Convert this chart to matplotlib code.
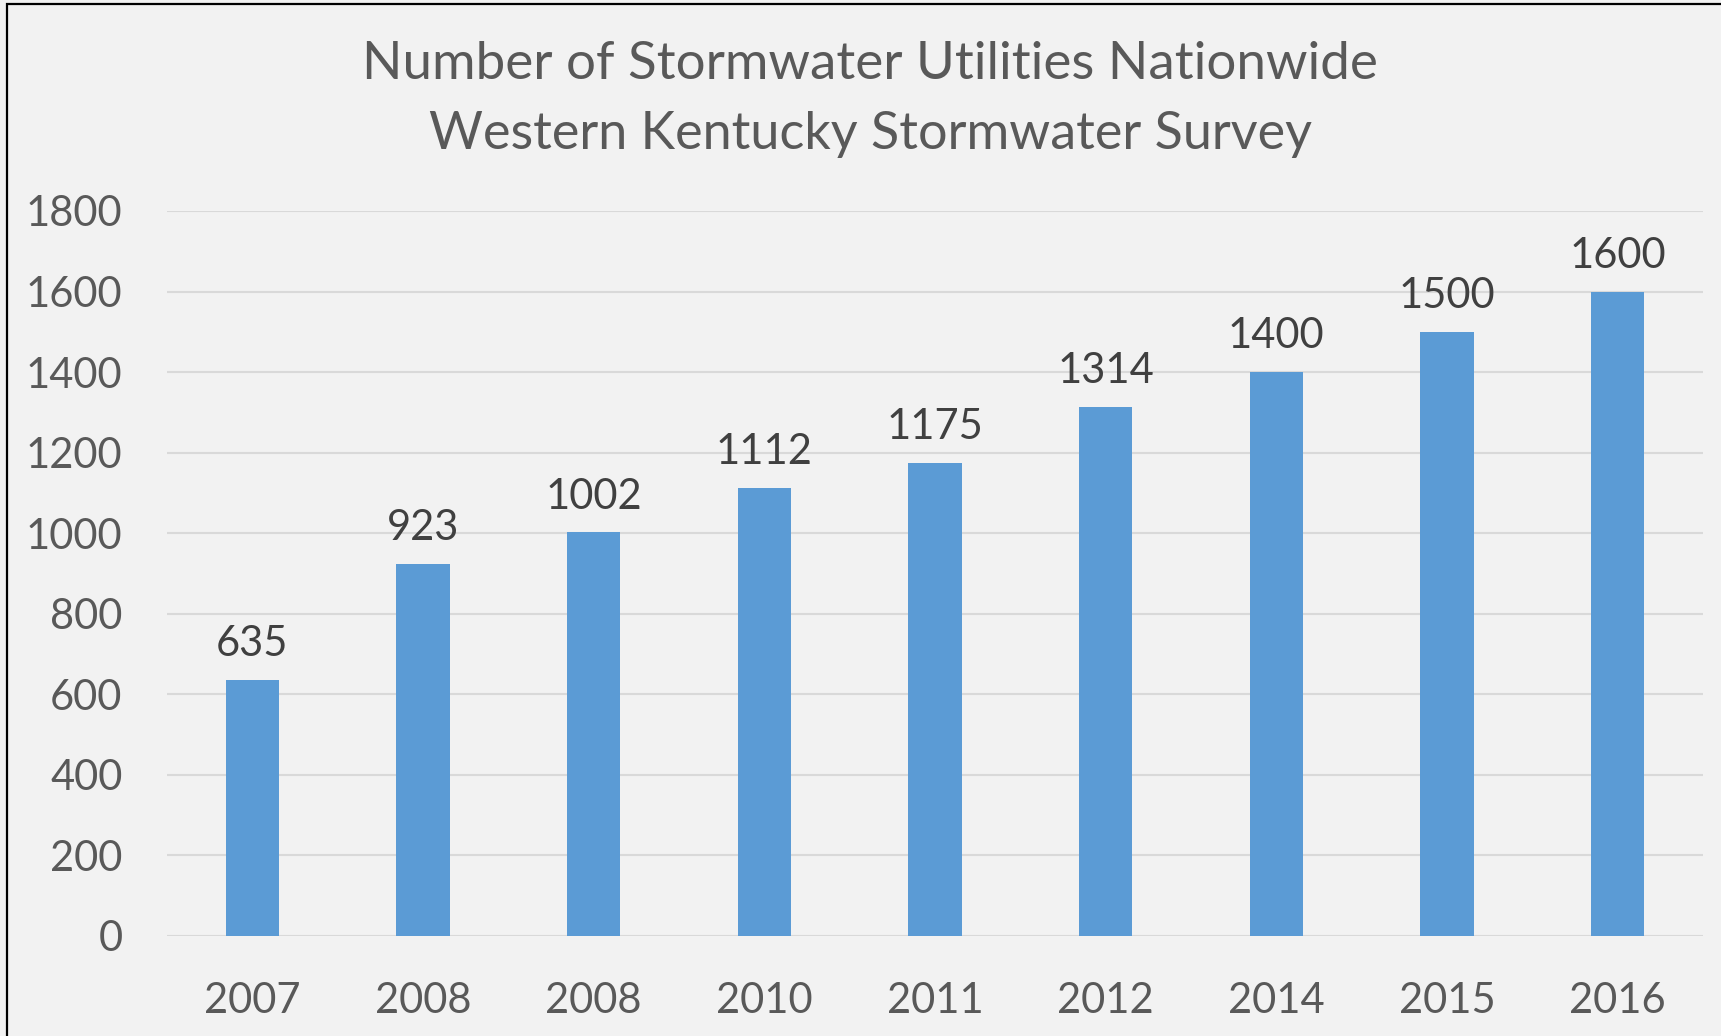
import matplotlib.pyplot as plt
from matplotlib.patches import Rectangle

# Data
years = ['2007', '2008', '2008', '2010', '2011', '2012', '2014', '2015', '2016']
utilities = [635, 923, 1002, 1112, 1175, 1314, 1400, 1500, 1600]
y_ticks = [0, 200, 400, 600, 800, 1000, 1200, 1400, 1600, 1800]

plt.rcParams['font.family'] = ['Lato', 'DejaVu Sans']

bg = '#F2F2F2'
fig = plt.figure(figsize=(17.21, 10.36), dpi=100, facecolor=bg)
W, H = 1721, 1036
ax = fig.add_axes([167 / W, 1 - 935.7 / H, (1703 - 167) / W, (935.7 - 211) / H])
ax.set_facecolor(bg)

x = range(len(years))
ax.bar(x, utilities, width=0.313, color='#5B9BD5', zorder=3)

# value labels above bars
for i, v in enumerate(utilities):
    ax.annotate(str(v), (i, v), xytext=(0, 17), textcoords='offset points',
                ha='center', va='baseline', fontsize=30, color='#404040')

ax.set_xlim(-0.5, len(years) - 0.5)
ax.set_ylim(0, 1800)
ax.set_yticks(y_ticks)
ax.set_xticks(list(x))
ax.set_xticklabels(years)
ax.tick_params(axis='both', length=0, labelsize=30, labelcolor='#595959')
ax.tick_params(axis='y', pad=32)
ax.tick_params(axis='x', pad=33)
ax.grid(axis='y', color='#D9D9D9', linewidth=1.5, zorder=0)
for s in ax.spines.values():
    s.set_visible(False)

# title, two lines
fig.text(870 / W, 1 - 79 / H, 'Number of Stormwater Utilities Nationwide',
         ha='center', va='baseline', fontsize=38.1, color='#595959')
fig.text(870 / W, 1 - 149 / H, 'Western Kentucky Stormwater Survey',
         ha='center', va='baseline', fontsize=37.5, color='#595959')

# thin frame around the chart area
fig.patches.append(Rectangle((7 / W, -0.05), 1.1, 1 - 4 / H + 0.05, transform=fig.transFigure,
                             fill=False, edgecolor='black', linewidth=1.6))

fig.savefig('out.png', dpi=100, facecolor=bg)
